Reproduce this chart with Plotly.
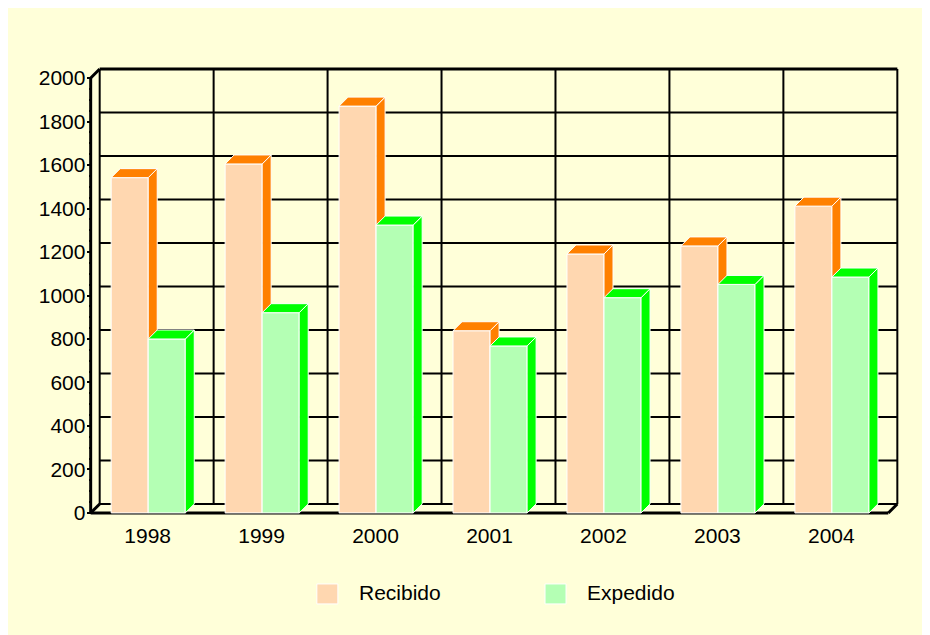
import plotly.graph_objects as go

# ---- data ----
years = ["1998", "1999", "2000", "2001", "2002", "2003", "2004"]
recibido = [1542, 1605, 1871, 838, 1191, 1228, 1411]
expedido = [800, 921, 1324, 768, 990, 1051, 1085]
y_ticks = list(range(0, 2001, 200))

# ---- styling / geometry constants ----
FONT = "Arial, Liberation Sans, sans-serif"
BG = "#FFFFD9"
REC_FRONT, REC_SIDE = "#FFD7B0", "#FF8000"
EXP_FRONT, EXP_SIDE = "#B4FFB4", "#00FF00"

W_PX, H_PX = 930, 635
PAGE_OFF = 8          # body margin of the page
PXC = 113.86          # pixels per category
PXU = 0.2175          # pixels per value unit
X_LEFT_PX = 91 - PAGE_OFF   # pixel of front x=-0.5
Y_ZERO_PX = 513 - PAGE_OFF  # pixel of front y=0
DX = 9 / PXC          # depth offset (data units)
DY = 9 / PXU
YMAX = 2000

XPAD, YPAD = 0.12, 60
xlo, xhi = -0.5 - XPAD, 6.5 + DX + XPAD
ylo, yhi = -YPAD, YMAX + DY + YPAD

ml = X_LEFT_PX - XPAD * PXC
dom_w = (xhi - xlo) * PXC
mr = W_PX - ml - dom_w
dom_h = (yhi - ylo) * PXU
mb = H_PX - Y_ZERO_PX - YPAD * PXU
mt = H_PX - mb - dom_h


def px2paper(px, py):
    px -= PAGE_OFF
    py -= PAGE_OFF
    return (px - ml) / dom_w, (H_PX - mb - py) / dom_h


n = len(years)
BAR_W = 0.325
OFFS = {"R": -0.32, "E": 0.005}


def faces(vals, off):
    fx, fy, sx, sy, tx, ty = [], [], [], [], [], []
    for i, v in enumerate(vals):
        xl = i + off
        xr = xl + BAR_W
        fx += [xl, xr, xr, xl, xl, None]
        fy += [0, 0, v, v, 0, None]
        sx += [xr, xr + DX, xr + DX, xr, xr, None]
        sy += [0, DY, v + DY, v, 0, None]
        tx += [xl, xr, xr + DX, xl + DX, xl, None]
        ty += [v, v, v + DY, v + DY, v, None]
    return (fx, fy), (sx, sy), (tx, ty)


fig = go.Figure()
for vals, key, cf, cs, name in [(recibido, "R", REC_FRONT, REC_SIDE, "Recibido"),
                                (expedido, "E", EXP_FRONT, EXP_SIDE, "Expedido")]:
    (fx, fy), (sx, sy), (tx, ty) = faces(vals, OFFS[key])
    for xs, ys, col in [(fx, fy, cf), (sx, sy, cs), (tx, ty, cs)]:
        fig.add_trace(go.Scatter(x=xs, y=ys, mode="lines", fill="toself",
                                 fillcolor=col, line=dict(color="white", width=1),
                                 name=name, showlegend=False, hoverinfo="skip"))

shapes = []
# back wall horizontal gridlines
for v in y_ticks:
    shapes.append(dict(type="line", xref="x", yref="y", x0=-0.5 + DX, x1=6.5 + DX,
                       y0=v + DY, y1=v + DY, line=dict(color="black", width=3 if v == YMAX else 2),
                       layer="below"))
# back wall vertical lines
for k in range(n + 1):
    shapes.append(dict(type="line", xref="x", yref="y", x0=k - 0.5 + DX, x1=k - 0.5 + DX,
                       y0=DY, y1=YMAX + DY, line=dict(color="black", width=2), layer="below"))
# front axes and depth edges
front = [((-0.5, 0), (-0.5, YMAX)), ((-0.5, 0), (6.5, 0)),
         ((-0.5, 0), (-0.5 + DX, DY)), ((-0.5, YMAX), (-0.5 + DX, YMAX + DY)),
         ((6.5, 0), (6.5 + DX, DY))]
for (a, b) in front:
    shapes.append(dict(type="line", xref="x", yref="y", x0=a[0], y0=a[1], x1=b[0], y1=b[1],
                       line=dict(color="black", width=3), layer="below"))

# custom legend
annotations = []
for name, col, sqx, tx in [("Recibido", REC_FRONT, 317, 357), ("Expedido", EXP_FRONT, 545, 585)]:
    x0, y0 = px2paper(sqx, 604)
    x1, y1 = px2paper(sqx + 21, 584)
    shapes.append(dict(type="rect", xref="paper", yref="paper", x0=x0, x1=x1, y0=y0, y1=y1,
                       fillcolor=col, line=dict(color="white", width=1)))
    ax, ay = px2paper(tx, 593)
    annotations.append(dict(text=name, xref="paper", yref="paper", x=ax, y=ay,
                            xanchor="left", yanchor="middle", showarrow=False,
                            font=dict(family=FONT, size=21, color="black")))

fig.update_layout(
    width=W_PX, height=H_PX,
    margin=dict(l=ml, r=mr, t=mt, b=mb, pad=0, autoexpand=False),
    paper_bgcolor=BG, plot_bgcolor=BG,
    font=dict(family=FONT, size=21, color="black"),
    showlegend=False,
    shapes=shapes, annotations=annotations,
    xaxis=dict(range=[xlo, xhi], domain=[0, 1], anchor="free",
               position=(0 - ylo) / (yhi - ylo),
               tickmode="array", tickvals=list(range(n)), ticktext=years,
               showgrid=False, zeroline=False, showline=False, ticks="",
               ticklabelstandoff=8,
               tickfont=dict(family=FONT, size=21, color="black")),
    yaxis=dict(range=[ylo, yhi], domain=[0, 1], anchor="free",
               position=(XPAD * PXC) / dom_w,
               tickmode="array", tickvals=y_ticks, ticktext=[str(v) for v in y_ticks],
               showgrid=False, zeroline=False, showline=False,
               ticks="outside", ticklen=4, tickwidth=2, tickcolor="black",
               ticklabelstandoff=-3,
               minor=dict(tickmode="array", tickvals=[v for v in range(0, YMAX + 1, 50) if v % 200],
                          ticks="outside", ticklen=2, tickwidth=2, tickcolor="black"),
               tickfont=dict(family=FONT, size=21, color="black")),
)

fig.write_html("out.html")
